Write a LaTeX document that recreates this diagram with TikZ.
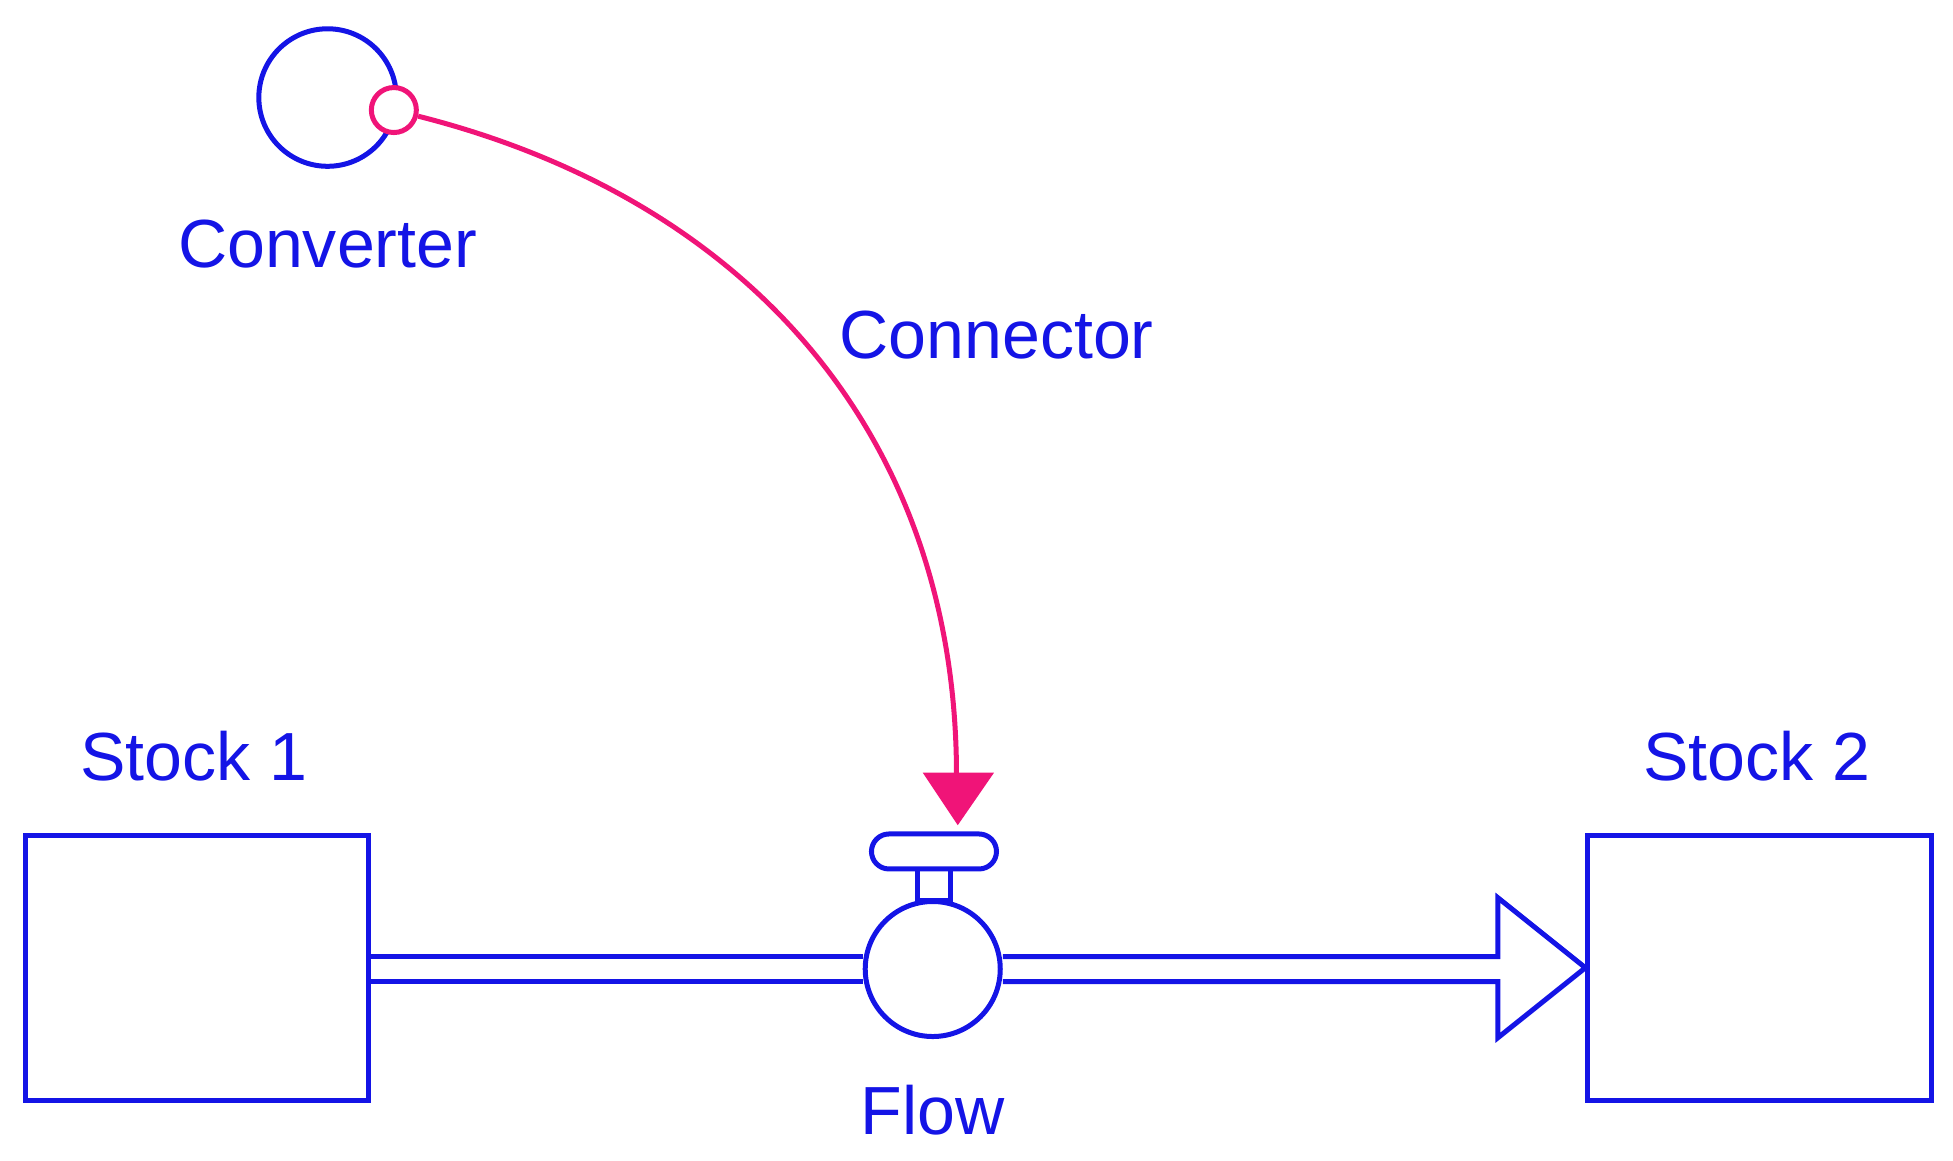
\documentclass[tikz,border=0pt]{standalone}
\usepackage{fontspec}
\setmainfont{Liberation Sans}
\definecolor{sb}{RGB}{20,20,230}
\definecolor{pk}{RGB}{240,20,120}
\begin{document}
\begin{tikzpicture}[x=0.1mm,y=-0.1mm,
  ln/.style={draw=sb,line width=0.4mm},
  lbl/.style={text=sb,font=\fontsize{15.5pt}{18pt}\selectfont,inner sep=0}]
\useasboundingbox (0,0) rectangle (1562,928);
% converter
\node[ln,circle,minimum size=11mm,inner sep=0] (conv) at (262,78) {};
\node[lbl] (convt) at (262,195) {Converter};
\node[draw=pk,line width=0.4mm,fill=white,circle,minimum size=3.6mm,inner sep=0] (src) at (315,88) {};
% stocks
\node[ln,minimum width=27.5mm,minimum height=21.2mm,inner sep=0] (s1) at (157.5,774) {};
\node[ln,minimum width=27.5mm,minimum height=21.2mm,inner sep=0] (s2) at (1407.5,774) {};
\node[lbl] (s1t) at (155,605) {Stock 1};
\node[lbl] (s2t) at (1405,605) {Stock 2};
% valve
\node[ln,circle,minimum size=10.8mm,inner sep=0] (valve) at (746,775) {};
\node[ln,minimum width=2.6mm,minimum height=2.5mm,inner sep=0] (stem) at (747,707.5) {};
\node[ln,fill=white,rounded corners=1.4mm,minimum width=10mm,minimum height=2.8mm,inner sep=0] (handle) at (747,681) {};
\node[lbl] (flowt) at (746,888) {Flow};
% pipes
\draw[ln] (s1.east |- 0,765) -- (valve.west |- 0,765);
\draw[ln] (s1.east |- 0,785) -- (valve.west |- 0,785);
\draw[ln,line join=miter] (valve.east |- 0,765) -- (1198,765) -- (1198,718) -- (s2.west) -- (1198,830) -- (1198,785) -- (valve.east |- 0,785);
% connector
\coordinate (ct) at (765,620);
\draw[draw=pk,line width=0.4mm] (src) .. controls (600,160) and (765,350) .. (ct);
\fill[pk] (738,618) -- (795,618) -- (766,660) -- cycle;
\node[lbl] (connt) at (797,268) {Connector};
\end{tikzpicture}
\end{document}
